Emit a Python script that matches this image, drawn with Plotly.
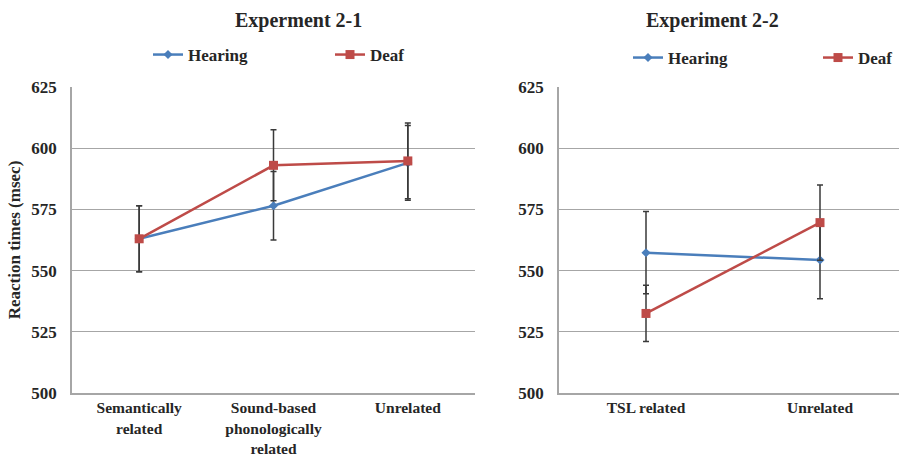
import plotly.graph_objects as go

# Experiment 2-1
cats1 = ["Semantically<br>related", "Sound-based<br>phonologically<br>related", "Unrelated"]
hearing1 = [563.0, 576.5, 594.0]
hearing1_err = [13.5, 14.0, 15.3]
deaf1 = [563.0, 593.0, 594.8]
deaf1_err = [13.5, 14.5, 15.5]

# Experiment 2-2
cats2 = ["TSL related", "Unrelated"]
hearing2 = [557.3, 554.3]
hearing2_err = [16.8, 15.8]
deaf2 = [532.5, 569.6]
deaf2_err = [11.5, 15.4]

yticks = [500, 525, 550, 575, 600, 625]

BLUE = "#4a7ebb"
RED = "#be4b48"
FONT = "Liberation Serif"
TXT = "#262626"
GRID = "#a6a6a6"
ERR = "#3a3a3a"

fig = go.Figure()

def add(x, y, err, name, color, symbol, size, xa, ya, legend):
    fig.add_trace(go.Scatter(
        x=list(range(len(x))), y=y, name=name, mode="lines+markers",
        line=dict(color=color, width=2.5),
        marker=dict(color=color, symbol=symbol, size=size),
        error_y=dict(type="data", array=err, visible=True, color=ERR, thickness=1.5, width=3),
        xaxis=xa, yaxis=ya, legend=legend,
    ))

add(cats1, hearing1, hearing1_err, "Hearing", BLUE, "diamond", 7, "x", "y", "legend")
add(cats1, deaf1, deaf1_err, "Deaf", RED, "square", 9, "x", "y", "legend")
add(cats2, hearing2, hearing2_err, "Hearing", BLUE, "diamond", 7, "x2", "y2", "legend2")
add(cats2, deaf2, deaf2_err, "Deaf", RED, "square", 9, "x2", "y2", "legend2")

W, H = 899, 459
ydom = [(H - 393) / H, (H - 87) / H]

tfont = dict(family=FONT, size=17, color=TXT, weight="bold")
yax = dict(range=[500, 625], tickvals=yticks, showgrid=True, gridcolor=GRID, gridwidth=1,
           showline=True, linecolor=GRID, linewidth=1.5, zeroline=False, ticks="",
           tickfont=tfont, domain=ydom, ticklabelstandoff=10, automargin=False)
xcommon = dict(showgrid=False, showline=True, linecolor=GRID, linewidth=1.5, zeroline=False,
               ticks="", tickfont=dict(family=FONT, size=15.5, color=TXT, weight="bold"),
               automargin=False)
lfont = dict(family=FONT, size=17, color=TXT, weight="bold")

fig.update_layout(
    width=W, height=H, margin=dict(l=0, r=0, t=0, b=0, autoexpand=False),
    paper_bgcolor="white", plot_bgcolor="white",
    font=dict(family=FONT, color=TXT),
    xaxis=dict(domain=[72 / W, 475 / W], range=[-0.5, 2.5],
               tickvals=list(range(len(cats1))), ticktext=cats1, **xcommon),
    xaxis2=dict(domain=[559 / W, 1.0], range=[-0.5, 1.454],
                tickvals=list(range(len(cats2))), ticktext=cats2, anchor="y2", **xcommon),
    yaxis=dict(anchor="x", title=dict(text="Reaction times (msec)", standoff=6,
               font=dict(family=FONT, size=17, color=TXT, weight="bold")), **yax),
    yaxis2=dict(anchor="x2", **yax),
    legend=dict(orientation="h", x=148 / W, y=(H - 55) / H, xanchor="left", yanchor="middle",
                entrywidth=137, font=lfont, itemwidth=30, bgcolor="rgba(0,0,0,0)"),
    legend2=dict(orientation="h", x=628 / W, y=(H - 58) / H, xanchor="left", yanchor="middle",
                 entrywidth=145, font=lfont, itemwidth=30, bgcolor="rgba(0,0,0,0)"),
    annotations=[
        dict(text="<b>Experment 2-1</b>", x=298 / W, y=(H - 20) / H, xref="paper", yref="paper",
             xanchor="center", yanchor="middle", showarrow=False,
             font=dict(family=FONT, size=20, color=TXT)),
        dict(text="<b>Experiment 2-2</b>", x=712 / W, y=(H - 20) / H, xref="paper", yref="paper",
             xanchor="center", yanchor="middle", showarrow=False,
             font=dict(family=FONT, size=20, color=TXT)),
    ],
)

fig.write_html("out.html", config={"displayModeBar": False},
               post_script="document.body.style.margin='0px';")
